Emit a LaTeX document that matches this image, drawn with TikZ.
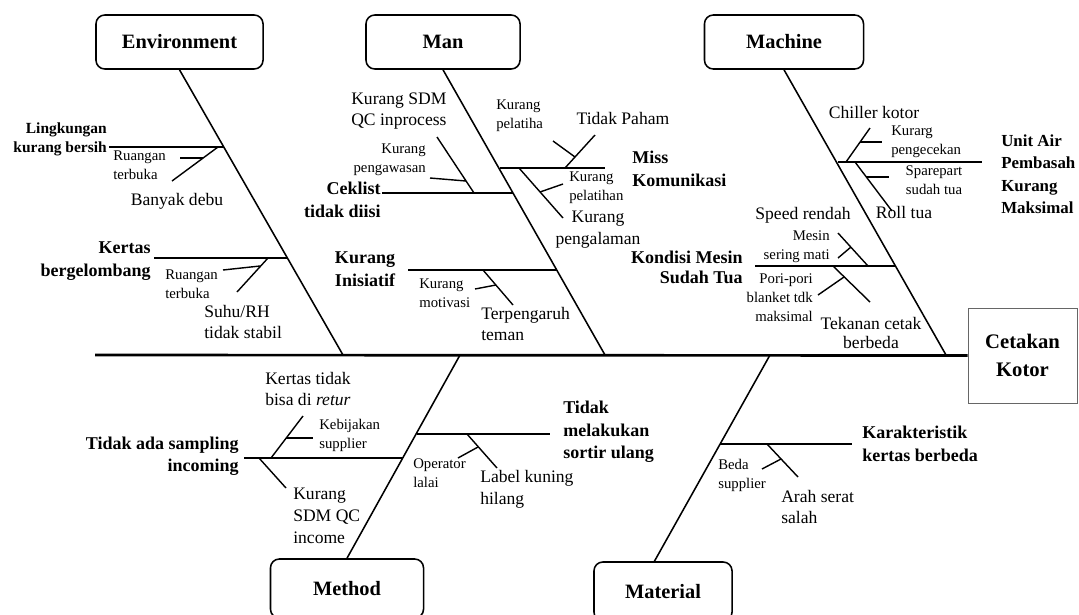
\documentclass[tikz,border=0pt]{standalone}
\usepackage{fontspec}
\setmainfont{Liberation Serif}
\tikzstyle{cat} = [rectangle, rounded corners=0.22cm, draw=black, line width=1.1pt, text centered, font=\fontsize{14.5}{17}\selectfont\bfseries]
\tikzstyle{effect} = [rectangle, draw=black!60, line width=0.7pt, minimum width=2.725cm, minimum height=2.375cm, align=center, font=\fontsize{14.7}{20}\selectfont\bfseries]
\tikzstyle{causetxt} = [inner sep=0pt, font=\fontsize{12.8}{16}\selectfont\bfseries]
\tikzstyle{subtxt} = [inner sep=0pt, font=\fontsize{12.5}{15.5}\selectfont]
\tikzstyle{smalltxt} = [inner sep=0pt, font=\fontsize{10.5}{13.5}\selectfont]
\tikzstyle{spineline} = [line width=1.9pt]
\tikzstyle{boneline} = [line width=1.1pt]
\tikzstyle{branchline} = [line width=1.5pt]
\tikzstyle{twigline} = [line width=1pt]

\begin{document}
\begin{tikzpicture}[x=0.025cm, y=-0.025cm]
    \useasboundingbox (0,0) rectangle (1079,614);
    \clip (0,0) rectangle (1079,614);

    % categories and effect
    \node (env)  [cat, minimum width=4.175cm, minimum height=1.35cm] at (179.5,42) {Environment};
    \node (man)  [cat, minimum width=3.85cm, minimum height=1.35cm] at (443,42) {Man};
    \node (mach) [cat, minimum width=3.975cm, minimum height=1.35cm] at (784,42) {Machine};
    \node (meth) [cat, minimum width=3.825cm, minimum height=1.475cm] at (347,588.5) {Method};
    \node (mat)  [cat, minimum width=3.45cm, minimum height=1.475cm] at (663,591.5) {Material};
    \node (eff)  [effect] at (1022.5,355.5) {Cetakan\\Kotor};

    \coordinate (tail)  at (95,355);
    \coordinate (envS)  at (343,355);
    \coordinate (manS)  at (605,355);
    \coordinate (machS) at (946,355);
    \coordinate (methS) at (460,355);
    \coordinate (matS)  at (770,355);
    \coordinate (matB)  at (654,562);

    \draw [spineline] (tail) -- (eff.west);
    \draw [boneline] (env.south) -- (envS);
    \draw [boneline] (man.south) -- (manS);
    \draw [boneline] (mach.south) -- (machS);
    \draw [boneline] (methS) -- (meth.north);
    \draw [boneline] (matS) -- (matB);

    % Environment
    \node (lkb) [causetxt, align=right, anchor=east, font=\fontsize{11}{13.5}\selectfont\bfseries] at (107,139) {Lingkungan\\kurang bersih};
    \node (rt1) [smalltxt, align=left, anchor=west] at (113,165) {Ruangan\\terbuka};
    \node (bd)  [subtxt] at (177,201) {Banyak debu};
    \node (kb)  [causetxt, align=right, anchor=east] at (151,261) {Kertas\\bergelombang};
    \node (rt2) [smalltxt, align=left, anchor=west] at (165,284) {Ruangan\\terbuka};
    \node (srh) [subtxt, align=left, anchor=west] at (204,322) {Suhu/RH\\tidak stabil};

    \coordinate (lkbA) at (109,147);  \coordinate (lkbB) at (224,147);
    \coordinate (bdA)  at (218,147);  \coordinate (bdB)  at (172,181);
    \coordinate (rt1A) at (180,158);  \coordinate (rt1B) at (203,158);
    \coordinate (kbA)  at (154,258);  \coordinate (kbB)  at (288,258);
    \coordinate (srhA) at (268,258);  \coordinate (srhB) at (237,292);
    \coordinate (rt2A) at (223,270);  \coordinate (rt2B) at (260,266);

    \draw [branchline] (lkbA) -- (lkbB);
    \draw [twigline] (bdA) -- (bdB);
    \draw [twigline] (rt1A) -- (rt1B);
    \draw [branchline] (kbA) -- (kbB);
    \draw [twigline] (srhA) -- (srhB);
    \draw [twigline] (rt2A) -- (rt2B);

    % Man
    \node (ksdm) [subtxt, align=left, anchor=west] at (351,111) {Kurang SDM\\QC inprocess};
    \node (kpw)  [smalltxt, align=right, anchor=east] at (426,160) {Kurang\\pengawasan};
    \node (cek)  [causetxt, align=right, anchor=east] at (381,200) {Ceklist\\tidak diisi};
    \node (kpl1) [smalltxt, align=left, anchor=west] at (496,116) {Kurang\\pelatiha};
    \node (tph)  [subtxt] at (623,118) {Tidak Paham};
    \node (miss) [causetxt, align=left, anchor=west] at (632,169) {Miss\\Komunikasi};
    \node (kpl2) [smalltxt, align=left, anchor=west] at (569,188) {Kurang\\pelatihan};
    \node (kpg)  [subtxt, align=center] at (598,230) {Kurang\\pengalaman};
    \node (kin)  [causetxt, align=center] at (365,269) {Kurang\\Inisiatif};
    \node (kmo)  [smalltxt, align=left, anchor=west] at (419,293) {Kurang\\motivasi};
    \node (tpt)  [subtxt, align=left, anchor=west] at (481,324) {Terpengaruh\\teman};

    \coordinate (cekA)  at (382,193);  \coordinate (cekB)  at (513,193);
    \coordinate (ksdmA) at (474,193);  \coordinate (ksdmB) at (437,137);
    \coordinate (kpwA)  at (430,178);  \coordinate (kpwB)  at (466,181);
    \coordinate (missA) at (500,168);  \coordinate (missB) at (605,168);
    \coordinate (tphA)  at (565,168);  \coordinate (tphB)  at (595,135);
    \coordinate (kpl1A) at (553,141);  \coordinate (kpl1B) at (575,157);
    \coordinate (kpgA)  at (519,168);  \coordinate (kpgB)  at (563,218);
    \coordinate (kpl2A) at (540,192);  \coordinate (kpl2B) at (563,184);
    \coordinate (kinA)  at (408,270);  \coordinate (kinB)  at (557,270);
    \coordinate (tptA)  at (483,270);  \coordinate (tptB)  at (513,305);
    \coordinate (kmoA)  at (475,289);  \coordinate (kmoB)  at (496,285);

    \draw [branchline] (cekA) -- (cekB);
    \draw [twigline] (ksdmA) -- (ksdmB);
    \draw [twigline] (kpwA) -- (kpwB);
    \draw [branchline] (missA) -- (missB);
    \draw [twigline] (tphA) -- (tphB);
    \draw [twigline] (kpl1A) -- (kpl1B);
    \draw [twigline] (kpgA) -- (kpgB);
    \draw [twigline] (kpl2A) -- (kpl2B);
    \draw [branchline] (kinA) -- (kinB);
    \draw [twigline] (tptA) -- (tptB);
    \draw [twigline] (kmoA) -- (kmoB);

    % Machine
    \node (chk) [subtxt] at (874,112) {Chiller kotor};
    \node (kpc) [smalltxt, align=left, anchor=west] at (891,142) {Kurarg\\pengecekan};
    \node (spt) [smalltxt, align=center] at (934,180) {Sparepart\\sudah tua};
    \node (rol) [subtxt] at (904,212) {Roll tua};
    \node (uap) [causetxt, align=left, anchor=west, font=\fontsize{12}{16}\selectfont\bfseries] at (1001,174) {Unit Air\\Pembasah\\Kurang\\Maksimal};
    \node (spd) [subtxt] at (803,215) {Speed rendah};
    \node (msm) [smalltxt, align=right, anchor=east] at (830,247) {Mesin\\sering mati};
    \node (ppb) [smalltxt, align=right, anchor=east] at (813,298) {Pori-pori\\blanket tdk\\maksimal};
    \node (tcb) [subtxt, align=center, font=\fontsize{12.5}{13.5}\selectfont] at (871,333) {Tekanan cetak\\berbeda};
    \node (kms) [causetxt, align=right, anchor=east, font=\fontsize{12.8}{14.2}\selectfont\bfseries] at (743,267) {Kondisi Mesin\\Sudah Tua};

    \coordinate (uapA) at (838,162);  \coordinate (uapB) at (982,162);
    \coordinate (chkA) at (846,162);  \coordinate (chkB) at (870,128);
    \coordinate (kpcA) at (860,142);  \coordinate (kpcB) at (882,142);
    \coordinate (rolA) at (855,162);  \coordinate (rolB) at (892,211);
    \coordinate (sptA) at (866,177);  \coordinate (sptB) at (889,177);
    \coordinate (kmsA) at (755,266);  \coordinate (kmsB) at (896,266);
    \coordinate (spdA) at (868,266);  \coordinate (spdB) at (838,233);
    \coordinate (msmA) at (838,258);  \coordinate (msmB) at (851,247);
    \coordinate (tcbA) at (833,266);  \coordinate (tcbB) at (870,302);
    \coordinate (ppbA) at (818,295);  \coordinate (ppbB) at (844,277);

    \draw [branchline] (uapA) -- (uapB);
    \draw [twigline] (chkA) -- (chkB);
    \draw [twigline] (kpcA) -- (kpcB);
    \draw [twigline] (rolA) -- (rolB);
    \draw [twigline] (sptA) -- (sptB);
    \draw [branchline] (kmsA) -- (kmsB);
    \draw [twigline] (spdA) -- (spdB);
    \draw [twigline] (msmA) -- (msmB);
    \draw [twigline] (tcbA) -- (tcbB);
    \draw [twigline] (ppbA) -- (ppbB);

    % Method
    \node (ktr) [subtxt, align=left, anchor=west] at (265,389) {Kertas tidak\\bisa di \textit{retur}};
    \node (kbs) [smalltxt, align=left, anchor=west] at (319,435) {Kebijakan\\supplier};
    \node (ksq) [subtxt, align=left, anchor=west] at (293,516) {Kurang\\SDM QC\\income};
    \node (tas) [causetxt, align=right, anchor=east] at (239,456) {Tidak ada sampling\\incoming};
    \node (opl) [smalltxt, align=left, anchor=west] at (413,473) {Operator\\lalai};
    \node (lkh) [subtxt, align=left, anchor=west] at (480,489) {Label kuning\\hilang};
    \node (tms) [causetxt, align=left, anchor=west] at (563,432) {Tidak\\melakukan\\sortir ulang};

    \coordinate (tasA) at (244,458);  \coordinate (tasB) at (403,458);
    \coordinate (ktrA) at (271,458);  \coordinate (ktrB) at (303,416);
    \coordinate (kbsA) at (286,438);  \coordinate (kbsB) at (313,438);
    \coordinate (ksqA) at (259,458);  \coordinate (ksqB) at (286,488);
    \coordinate (tmsA) at (417,434);  \coordinate (tmsB) at (550,434);
    \coordinate (lkhA) at (467,434);  \coordinate (lkhB) at (497,468);
    \coordinate (oplA) at (458,458);  \coordinate (oplB) at (478,447);

    \draw [branchline] (tasA) -- (tasB);
    \draw [twigline] (ktrA) -- (ktrB);
    \draw [twigline] (kbsA) -- (kbsB);
    \draw [twigline] (ksqA) -- (ksqB);
    \draw [branchline] (tmsA) -- (tmsB);
    \draw [twigline] (lkhA) -- (lkhB);
    \draw [twigline] (oplA) -- (oplB);

    % Material
    \node (bds) [smalltxt, align=left, anchor=west] at (718,475) {Beda\\supplier};
    \node (asr) [subtxt, align=left, anchor=west] at (781,507) {Arah serat\\salah};
    \node (kkb) [causetxt, align=left, anchor=west] at (862,444) {Karakteristik\\kertas berbeda};

    \coordinate (kkbA) at (720,444);  \coordinate (kkbB) at (852,444);
    \coordinate (asrA) at (767,444);  \coordinate (asrB) at (798,477);
    \coordinate (bdsA) at (762,469);  \coordinate (bdsB) at (781,459);

    \draw [branchline] (kkbA) -- (kkbB);
    \draw [twigline] (asrA) -- (asrB);
    \draw [twigline] (bdsA) -- (bdsB);

\end{tikzpicture}
\end{document}
